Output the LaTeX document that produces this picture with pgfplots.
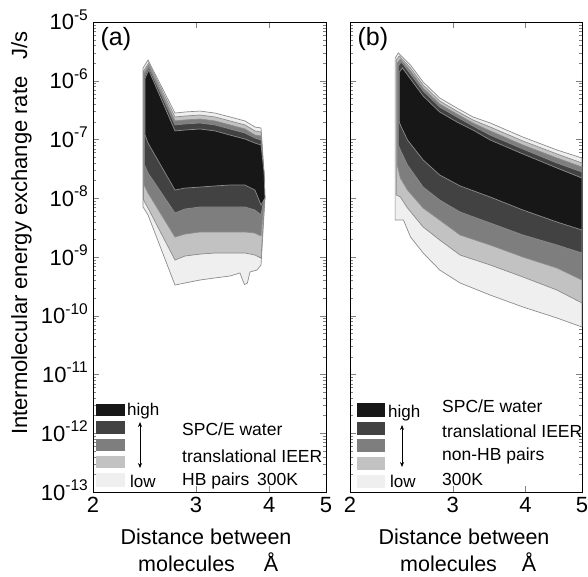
\documentclass[border=0pt]{standalone}
\usepackage{fontspec}
\setmainfont{Liberation Sans}
\usepackage{pgfplots}
\pgfplotsset{compat=1.18}
\usetikzlibrary{arrows.meta}

\definecolor{lvA}{HTML}{EFEFEF}
\definecolor{lvB}{HTML}{C2C2C2}
\definecolor{lvC}{HTML}{7E7E7E}
\definecolor{lvD}{HTML}{424242}
\definecolor{lvE}{HTML}{171717}
\definecolor{rim}{HTML}{8C8C8C}

\newcommand{\fs}[1]{\fontsize{#1}{#1}\selectfont}
\newcommand{\tten}[1]{10\raisebox{9.5pt}{\fs{15.5}#1}}
\tikzset{bandfill/.style={draw=rim, line width=0.7pt, fill=#1}}

\begin{document}
\begin{tikzpicture}
\path[use as bounding box] (0,0) rectangle (588pt,576pt);

% panel (a): HB pairs
\begin{axis}[at={(93pt,84pt)}, anchor=south west,
  scale only axis, width=233pt, height=470pt,
  xmode=log, ymode=log,
  xmin=2, xmax=5, ymin=1e-13, ymax=1e-5,
  xtick={2,3,4,5}, xticklabels={2,3,4,5},
  ytick={1e-13,1e-12,1e-11,1e-10,1e-9,1e-8,1e-7,1e-6,1e-5},
  yticklabels={\tten{-13},\tten{-12},\tten{-11},\tten{-10},\tten{-9},\tten{-8},\tten{-7},\tten{-6},\tten{-5}},
  axis line style={line width=1pt},
  major tick length=6pt, minor tick length=3.5pt,
  xticklabel style={font=\fs{22}, inner sep=0pt, yshift=-5pt},
  yticklabel style={font=\fs{22}, inner sep=0pt, xshift=-5pt, yshift=2pt}]
\addplot[bandfill=lvA] coordinates {(2.435,1.65e-6) (2.483,2.25e-6) (2.761,2.82e-7) (2.871,2.94e-7) (3.046,3.05e-7) (3.231,2.82e-7) (3.428,2.42e-7) (3.636,2.07e-7) (3.782,1.63e-7) (3.873,1.57e-7) (3.919,2.8e-8) (3.934,1.01e-8) (3.873,7.31e-10) (3.812,6.01e-10) (3.708,5.56e-10) (3.67,3.6e-10) (3.63,3.4e-10) (3.60,4.1e-10) (3.565,5.35e-10) (3.428,4.75e-10) (3.231,4.40e-10) (3.046,4.06e-10) (2.871,3.61e-10) (2.761,3.33e-10) (2.483,5.19e-9) (2.435,7.1e-9) (2.435,1.65e-6)};
\addplot[bandfill=lvB] coordinates {(2.44,1.47e-6) (2.49,2.0e-6) (2.761,2.42e-7) (2.871,2.51e-7) (3.046,2.61e-7) (3.231,2.42e-7) (3.428,2.07e-7) (3.636,1.77e-7) (3.782,1.40e-7) (3.873,1.34e-7) (3.915,2.8e-8) (3.93,1.01e-8) (3.873,9.62e-10) (3.782,1.08e-9) (3.636,1.17e-9) (3.428,1.17e-9) (3.231,1.17e-9) (3.046,1.12e-9) (2.871,1.04e-9) (2.761,8.89e-10) (2.483,6.82e-9) (2.44,9.33e-9) (2.44,1.47e-6)};
\addplot[bandfill=lvC] coordinates {(2.445,1.36e-6) (2.49,1.85e-6) (2.761,2.07e-7) (2.871,2.15e-7) (3.046,2.23e-7) (3.231,2.07e-7) (3.428,1.77e-7) (3.636,1.51e-7) (3.782,1.19e-7) (3.873,1.15e-7) (3.91,2.8e-8) (3.925,1.01e-8) (3.873,2.28e-9) (3.782,2.56e-9) (3.636,2.67e-9) (3.428,2.67e-9) (3.231,2.67e-9) (3.046,2.67e-9) (2.871,2.46e-9) (2.761,2.19e-9) (2.483,1.23e-8) (2.445,1.68e-8) (2.445,1.36e-6)};
\addplot[bandfill=lvD] coordinates {(2.45,1.2e-6) (2.49,1.71e-6) (2.761,1.77e-7) (2.871,1.84e-7) (3.046,1.91e-7) (3.231,1.77e-7) (3.428,1.51e-7) (3.636,1.29e-7) (3.782,1.06e-7) (3.873,9.8e-8) (3.91,2.8e-8) (3.92,1.01e-8) (3.873,5.19e-9) (3.782,6.31e-9) (3.636,7.1e-9) (3.428,7.1e-9) (3.231,7.1e-9) (3.046,7.1e-9) (2.871,6.56e-9) (2.761,5.61e-9) (2.483,2.69e-8) (2.45,3.68e-8) (2.45,1.2e-6)};
\addplot[bandfill=lvE] coordinates {(2.455,1.11e-6) (2.49,1.52e-6) (2.761,1.40e-7) (2.871,1.45e-7) (3.046,1.51e-7) (3.231,1.40e-7) (3.428,1.19e-7) (3.636,1.02e-7) (3.782,8.7e-8) (3.873,8.05e-8) (3.919,2.8e-8) (3.934,1.01e-8) (3.873,7.67e-9) (3.782,1.38e-8) (3.636,1.68e-8) (3.428,1.68e-8) (3.231,1.62e-8) (3.046,1.55e-8) (2.871,1.49e-8) (2.761,1.38e-8) (2.483,8.7e-8) (2.455,1.19e-7) (2.455,1.11e-6)};
\end{axis}

% panel (b): non-HB pairs
\begin{axis}[at={(350pt,84pt)}, anchor=south west,
  scale only axis, width=232pt, height=470pt,
  xmode=log, ymode=log,
  xmin=2, xmax=5, ymin=1e-13, ymax=1e-5,
  xtick={2,3,4,5}, xticklabels={2,3,4,5},
  ytick={1e-13,1e-12,1e-11,1e-10,1e-9,1e-8,1e-7,1e-6,1e-5},
  yticklabels={},
  axis line style={line width=1pt},
  major tick length=6pt, minor tick length=3.5pt,
  xticklabel style={font=\fs{22}, inner sep=0pt, yshift=-5pt}]
\addplot[bandfill=lvA] coordinates {(2.39,2.44e-6) (2.42,2.97e-6) (2.54,1.85e-6) (2.67,9.52e-7) (2.85,5.09e-7) (3.05,3.44e-7) (3.25,2.42e-7) (3.48,1.91e-7) (3.96,1.10e-7) (4.53,6.63e-8) (5.0,4.84e-8) (5.0,6.43e-11) (4.53,9.15e-11) (3.96,1.41e-10) (3.48,2.25e-10) (3.09,3.61e-10) (2.85,6.01e-10) (2.67,1.17e-9) (2.54,2.19e-9) (2.47,4.26e-9) (2.39,4.26e-9) (2.39,2.44e-6)};
\addplot[bandfill=lvB] coordinates {(2.40,2.25e-6) (2.43,2.64e-6) (2.54,1.65e-6) (2.67,8.47e-7) (2.85,4.52e-7) (3.05,3.05e-7) (3.25,2.15e-7) (3.48,1.63e-7) (3.96,9.43e-8) (4.53,5.67e-8) (5.0,3.98e-8) (5.0,1.65e-10) (4.53,2.74e-10) (3.96,4.57e-10) (3.48,7.31e-10) (3.09,1.08e-9) (2.85,1.95e-9) (2.67,3.24e-9) (2.51,6.82e-9) (2.44,1.05e-8) (2.40,1.14e-8) (2.40,2.25e-6)};
\addplot[bandfill=lvC] coordinates {(2.41,2.0e-6) (2.44,2.35e-6) (2.54,1.47e-6) (2.67,7.53e-7) (2.85,4.02e-7) (3.05,2.72e-7) (3.25,1.91e-7) (3.48,1.40e-7) (3.96,8.05e-8) (4.53,4.84e-8) (5.0,3.40e-8) (5.0,4.06e-10) (4.53,6.50e-10) (3.96,1.0e-9) (3.48,1.60e-9) (3.09,2.37e-9) (2.85,4.26e-9) (2.67,6.82e-9) (2.51,1.38e-8) (2.44,2.21e-8) (2.41,3.68e-8) (2.41,2.0e-6)};
\addplot[bandfill=lvD] coordinates {(2.42,1.78e-6) (2.45,2.09e-6) (2.54,1.30e-6) (2.67,6.69e-7) (2.85,3.57e-7) (3.05,2.42e-7) (3.25,1.70e-7) (3.48,1.19e-7) (3.96,6.89e-8) (4.53,3.98e-8) (5.0,2.8e-8) (5.0,1.17e-9) (4.53,1.60e-9) (3.96,2.37e-9) (3.48,3.79e-9) (3.09,5.83e-9) (2.85,9.33e-9) (2.67,1.55e-8) (2.51,3.68e-8) (2.44,6.63e-8) (2.42,8.05e-8) (2.42,1.78e-6)};
\addplot[bandfill=lvE] coordinates {(2.43,1.41e-6) (2.46,1.65e-6) (2.54,1.07e-6) (2.67,5.50e-7) (2.85,2.94e-7) (3.05,1.99e-7) (3.25,1.45e-7) (3.48,9.8e-8) (3.96,5.67e-8) (4.53,3.27e-8) (5.0,2.21e-8) (5.0,2.88e-9) (4.53,3.94e-9) (3.96,6.31e-9) (3.48,1.05e-8) (3.09,1.62e-8) (2.85,2.49e-8) (2.67,4.48e-8) (2.51,9.8e-8) (2.44,1.77e-7) (2.43,1.99e-7) (2.43,1.41e-6)};
\end{axis}

% axis titles and panel letters
\node[rotate=90, anchor=base, font=\fs{22}] at (27pt,343pt) {Intermolecular energy exchange rate\hspace{17pt}J/s};
\node[font=\fs{25}, anchor=west] at (97pt,537pt) {(a)};
\node[font=\fs{25}, anchor=west] at (354pt,537pt) {(b)};
\node[font=\fs{21.5}, anchor=base] at (206pt,32pt) {Distance between};
\node[font=\fs{21.5}, anchor=base west, inner sep=0pt] at (138pt,5pt) {molecules\hspace{29pt}Å};
\node[font=\fs{21.5}, anchor=base] at (464pt,32pt) {Distance between};
\node[font=\fs{21.5}, anchor=base west, inner sep=0pt] at (400pt,5pt) {molecules\hspace{25pt}Å};

% legend of panel (a)
\fill[lvE] (96pt,160pt) rectangle (125pt,172pt);
\fill[lvD] (96pt,142pt) rectangle (125pt,155pt);
\fill[lvC] (96pt,125pt) rectangle (125pt,137pt);
\fill[lvB] (96pt,108pt) rectangle (125pt,120pt);
\fill[lvA] (96pt,89pt) rectangle (125pt,103pt);
\draw[{Stealth[length=5pt,width=4pt]}-{Stealth[length=5pt,width=4pt]}, line width=0.7pt] (140pt,154pt) -- (140pt,108pt);
\node[anchor=base west, inner sep=0pt, font=\fs{17}] at (127pt,161pt) {high};
\node[anchor=base west, inner sep=0pt, font=\fs{17}] at (130pt,89pt) {low};
\node[anchor=base west, inner sep=0pt, font=\fs{17.5}] at (182pt,141pt) {SPC/E water};
\node[anchor=base west, inner sep=0pt, font=\fs{17.5}] at (182pt,114pt) {translational IEER};
\node[anchor=base west, inner sep=0pt, font=\fs{17.5}] at (182pt,91pt) {HB pairs};
\node[anchor=base west, inner sep=0pt, font=\fs{17.5}] at (257pt,91pt) {300K};

% legend of panel (b)
\fill[lvE] (357pt,159pt) rectangle (385pt,173pt);
\fill[lvD] (357pt,141pt) rectangle (385pt,154pt);
\fill[lvC] (357pt,124pt) rectangle (385pt,137pt);
\fill[lvB] (357pt,106pt) rectangle (385pt,119pt);
\fill[lvA] (357pt,88pt) rectangle (385pt,101pt);
\draw[{Stealth[length=5pt,width=4pt]}-{Stealth[length=5pt,width=4pt]}, line width=0.7pt] (402pt,151pt) -- (402pt,109pt);
\node[anchor=base west, inner sep=0pt, font=\fs{17}] at (388pt,159pt) {high};
\node[anchor=base west, inner sep=0pt, font=\fs{17}] at (390pt,89pt) {low};
\node[anchor=base west, inner sep=0pt, font=\fs{17.5}] at (442pt,164pt) {SPC/E water};
\node[anchor=base west, inner sep=0pt, font=\fs{17.5}] at (442pt,139pt) {translational IEER};
\node[anchor=base west, inner sep=0pt, font=\fs{17.5}] at (442pt,116pt) {non-HB pairs};
\node[anchor=base west, inner sep=0pt, font=\fs{17.5}] at (442pt,91pt) {300K};
\end{tikzpicture}
\end{document}
